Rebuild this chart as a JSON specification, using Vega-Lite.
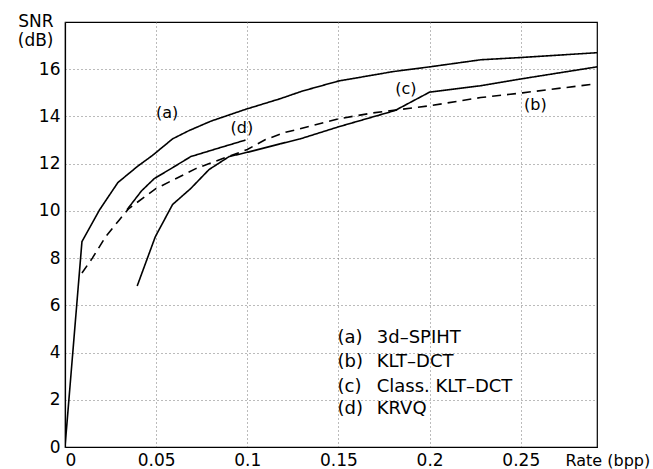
{
  "$schema": "https://vega.github.io/schema/vega-lite/v6.json",
  "width": 532,
  "height": 425,
  "autosize": {"type": "none"},
  "padding": {"left": 65, "top": 22, "right": 56, "bottom": 22},
  "background": "white",
  "config": {
    "view": {"stroke": "black", "strokeWidth": 1.2},
    "font": "DejaVu Sans",
    "axis": {
      "domainColor": "black",
      "domainWidth": 1.2,
      "ticks": false,
      "grid": true,
      "gridColor": "#777",
      "gridDash": [1, 3],
      "gridWidth": 1,
      "labelFont": "DejaVu Sans",
      "labelFontSize": 17,
      "labelColor": "black",
      "titleFont": "DejaVu Sans",
      "titleFontSize": 17,
      "titleFontWeight": "normal",
      "titleColor": "black"
    }
  },
  "datasets": {
    "curves": [
      {"series": "a", "rate": 0, "snr": 0},
      {"series": "a", "rate": 0.0093, "snr": 8.7},
      {"series": "a", "rate": 0.019, "snr": 10.05},
      {"series": "a", "rate": 0.029, "snr": 11.2},
      {"series": "a", "rate": 0.04, "snr": 11.9},
      {"series": "a", "rate": 0.048, "snr": 12.35},
      {"series": "a", "rate": 0.059, "snr": 13.05},
      {"series": "a", "rate": 0.068, "snr": 13.4},
      {"series": "a", "rate": 0.08, "snr": 13.8},
      {"series": "a", "rate": 0.099, "snr": 14.3},
      {"series": "a", "rate": 0.118, "snr": 14.75},
      {"series": "a", "rate": 0.13, "snr": 15.07},
      {"series": "a", "rate": 0.15, "snr": 15.5},
      {"series": "a", "rate": 0.18, "snr": 15.9},
      {"series": "a", "rate": 0.2, "snr": 16.1},
      {"series": "a", "rate": 0.228, "snr": 16.4},
      {"series": "a", "rate": 0.251, "snr": 16.5},
      {"series": "a", "rate": 0.2918, "snr": 16.7},
      {"series": "b", "rate": 0.0093, "snr": 7.37},
      {"series": "b", "rate": 0.015, "snr": 8.0},
      {"series": "b", "rate": 0.0225, "snr": 8.93},
      {"series": "b", "rate": 0.03, "snr": 9.64},
      {"series": "b", "rate": 0.035, "snr": 10.1},
      {"series": "b", "rate": 0.05, "snr": 10.95},
      {"series": "b", "rate": 0.072, "snr": 11.8},
      {"series": "b", "rate": 0.1, "snr": 12.6},
      {"series": "b", "rate": 0.11, "snr": 13.02},
      {"series": "b", "rate": 0.121, "snr": 13.33},
      {"series": "b", "rate": 0.13, "snr": 13.5},
      {"series": "b", "rate": 0.15, "snr": 13.9},
      {"series": "b", "rate": 0.169, "snr": 14.15},
      {"series": "b", "rate": 0.2, "snr": 14.45},
      {"series": "b", "rate": 0.228, "snr": 14.8},
      {"series": "b", "rate": 0.251, "snr": 15.0},
      {"series": "b", "rate": 0.29, "snr": 15.37},
      {"series": "c", "rate": 0.0396, "snr": 6.82},
      {"series": "c", "rate": 0.0495, "snr": 8.9},
      {"series": "c", "rate": 0.059, "snr": 10.27},
      {"series": "c", "rate": 0.069, "snr": 10.95},
      {"series": "c", "rate": 0.079, "snr": 11.75},
      {"series": "c", "rate": 0.09, "snr": 12.3},
      {"series": "c", "rate": 0.101, "snr": 12.5},
      {"series": "c", "rate": 0.118, "snr": 12.84},
      {"series": "c", "rate": 0.129, "snr": 13.05},
      {"series": "c", "rate": 0.15, "snr": 13.56},
      {"series": "c", "rate": 0.181, "snr": 14.25},
      {"series": "c", "rate": 0.2, "snr": 15.03},
      {"series": "c", "rate": 0.228, "snr": 15.3},
      {"series": "c", "rate": 0.251, "snr": 15.6},
      {"series": "c", "rate": 0.2918, "snr": 16.1},
      {"series": "d", "rate": 0.034, "snr": 10.05},
      {"series": "d", "rate": 0.042, "snr": 10.85},
      {"series": "d", "rate": 0.049, "snr": 11.37},
      {"series": "d", "rate": 0.059, "snr": 11.83},
      {"series": "d", "rate": 0.069, "snr": 12.3},
      {"series": "d", "rate": 0.083, "snr": 12.63},
      {"series": "d", "rate": 0.099, "snr": 13.0}
    ],
    "curveLabels": [
      {"rate": 0.056, "snr": 14.15, "label": "(a)"},
      {"rate": 0.258, "snr": 14.5, "label": "(b)"},
      {"rate": 0.187, "snr": 15.15, "label": "(c)"},
      {"rate": 0.097, "snr": 13.5, "label": "(d)"}
    ],
    "legendRows": [
      {"rate": 0.1495, "name_rate": 0.171, "snr": 4.6, "tag": "(a)", "name": "3d\u2013SPIHT"},
      {"rate": 0.1495, "name_rate": 0.171, "snr": 3.58, "tag": "(b)", "name": "KLT\u2013DCT"},
      {"rate": 0.1495, "name_rate": 0.171, "snr": 2.56, "tag": "(c)", "name": "Class. KLT\u2013DCT"},
      {"rate": 0.1495, "name_rate": 0.171, "snr": 1.6, "tag": "(d)", "name": "KRVQ"}
    ]
  },
  "layer": [
    {
      "data": {"name": "curves"},
      "mark": {"type": "line", "color": "black", "strokeWidth": 1.6, "clip": true},
      "encoding": {
        "x": {
          "field": "rate", "type": "quantitative",
          "scale": {"domain": [0, 0.2918], "nice": false, "zero": false},
          "axis": {
            "values": [0, 0.05, 0.1, 0.15, 0.2, 0.25],
            "format": "~g",
            "labelPadding": 5,
            "title": "Rate (bpp)",
            "titleFontSize": 16,
            "titleX": 500,
            "titleY": 5,
            "titleAlign": "left",
            "titleBaseline": "top",
            "titleAnchor": null
          }
        },
        "y": {
          "field": "snr", "type": "quantitative",
          "scale": {"domain": [0, 18], "nice": false},
          "axis": {
            "values": [0, 2, 4, 6, 8, 10, 12, 14, 16],
            "labelPadding": 5,
            "title": ["SNR", "(dB)"],
            "titleFontSize": 17,
            "titleAngle": 0,
            "titleAlign": "right",
            "titleBaseline": "top",
            "titleX": -12,
            "titleY": -9,
            "titleLineHeight": 19.5,
            "titleAnchor": null
          }
        },
        "detail": {"field": "series"},
        "strokeDash": {
          "field": "series", "type": "nominal",
          "scale": {"domain": ["a", "b", "c", "d"], "range": [[1, 0], [9, 6], [1, 0], [1, 0]]},
          "legend": null
        },
        "order": {"field": "rate", "type": "quantitative"}
      }
    },
    {
      "data": {"name": "curveLabels"},
      "mark": {"type": "text", "fontSize": 16, "color": "black", "align": "center", "baseline": "middle"},
      "encoding": {
        "x": {"field": "rate", "type": "quantitative"},
        "y": {"field": "snr", "type": "quantitative"},
        "text": {"field": "label"}
      }
    },
    {
      "data": {"name": "legendRows"},
      "mark": {"type": "text", "fontSize": 18, "color": "black", "align": "left", "baseline": "middle"},
      "encoding": {
        "x": {"field": "rate", "type": "quantitative"},
        "y": {"field": "snr", "type": "quantitative"},
        "text": {"field": "tag"}
      }
    },
    {
      "data": {"name": "legendRows"},
      "mark": {"type": "text", "fontSize": 18, "color": "black", "align": "left", "baseline": "middle"},
      "encoding": {
        "x": {"field": "name_rate", "type": "quantitative"},
        "y": {"field": "snr", "type": "quantitative"},
        "text": {"field": "name"}
      }
    }
  ]
}
